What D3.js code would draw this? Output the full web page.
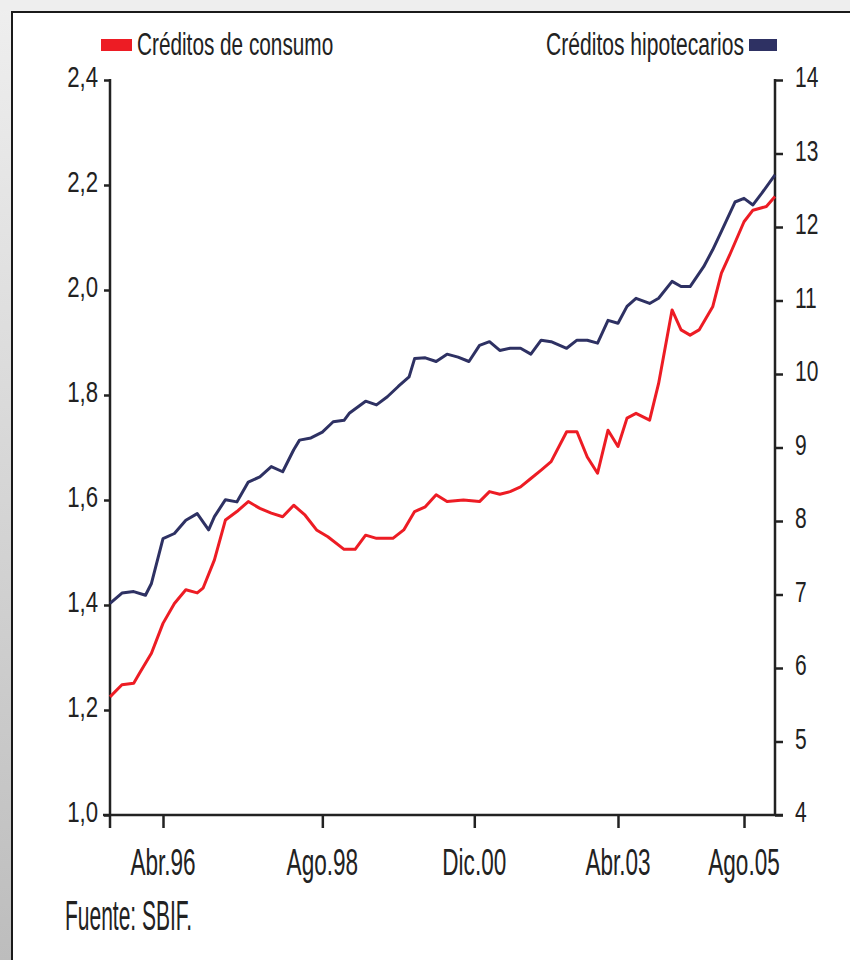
<!DOCTYPE html>
<html>
<head>
<meta charset="utf-8">
<script src="https://cdn.jsdelivr.net/npm/d3@7"></script>
<style>
  html, body { margin: 0; padding: 0; background: #ffffff; }
  svg { display: block; }
</style>
</head>
<body>
<svg id="chart" width="850" height="960"></svg>
<script>
// ---------------- DATA ----------------
const seriesNames = ["Créditos de consumo", "Créditos hipotecarios"];

// Créditos de consumo (left axis)
const consumoDates = ["1995-07","1995-09","1995-11","1995-12","1996-02","1996-04","1996-06","1996-08","1996-10","1996-11",
  "1997-01","1997-03","1997-05","1997-07","1997-09","1997-11","1998-01","1998-03","1998-05","1998-07",
  "1998-09","1998-12","1999-02","1999-04","1999-06","1999-09","1999-11","2000-01","2000-03","2000-05",
  "2000-07","2000-10","2001-01","2001-03","2001-05","2001-07","2001-09","2001-11","2002-01","2002-03",
  "2002-06","2002-08","2002-10","2002-12","2003-02","2003-04","2003-06","2003-08","2003-11","2004-01",
  "2004-04","2004-06","2004-08","2004-10","2005-01","2005-03","2005-05","2005-08","2005-10","2006-01","2006-03"];
const consumoValues = [1.225,1.248,1.251,1.270,1.308,1.365,1.403,1.429,1.423,1.432,
  1.486,1.562,1.578,1.597,1.584,1.575,1.568,1.590,1.571,1.543,
  1.530,1.506,1.506,1.533,1.527,1.527,1.543,1.578,1.587,1.610,
  1.597,1.600,1.597,1.616,1.611,1.616,1.625,1.641,1.657,1.673,
  1.730,1.730,1.682,1.651,1.733,1.702,1.756,1.765,1.752,1.822,
  1.962,1.924,1.914,1.924,1.968,2.032,2.070,2.130,2.152,2.159,2.178];

// Créditos hipotecarios (right axis)
const hipotecDates = ["1995-07","1995-09","1995-11","1996-01","1996-02","1996-04","1996-06","1996-08","1996-10","1996-12",
  "1997-01","1997-03","1997-05","1997-07","1997-09","1997-11","1998-01","1998-03","1998-04","1998-06",
  "1998-08","1998-10","1998-12","1999-01","1999-04","1999-06","1999-08","1999-10","1999-12","2000-01",
  "2000-03","2000-05","2000-07","2000-09","2000-11","2001-01","2001-03","2001-05","2001-07","2001-09",
  "2001-11","2002-01","2002-03","2002-06","2002-08","2002-10","2002-12","2003-02","2003-04","2003-06",
  "2003-08","2003-11","2004-01","2004-04","2004-06","2004-08","2004-11","2005-01","2005-03","2005-06",
  "2005-08","2005-10","2005-12","2006-03"];
const hipotecValues = [6.88,7.02,7.04,6.99,7.15,7.76,7.83,8.01,8.10,7.88,
  8.06,8.29,8.26,8.53,8.60,8.74,8.67,8.97,9.10,9.13,
  9.21,9.35,9.37,9.47,9.63,9.58,9.69,9.83,9.96,10.21,
  10.22,10.17,10.27,10.23,10.17,10.39,10.44,10.32,10.35,10.35,
  10.27,10.46,10.44,10.35,10.46,10.46,10.42,10.73,10.69,10.92,
  11.03,10.96,11.03,11.26,11.19,11.19,11.46,11.69,11.94,12.34,
  12.39,12.30,12.46,12.71];

const xTickDates = ["1996-04","1998-08","2000-12","2003-04","2005-08"];
const xTickLabels = ["Abr.96","Ago.98","Dic.00","Abr.03","Ago.05"];
const leftTicks = [1.0,1.2,1.4,1.6,1.8,2.0,2.2,2.4];
const leftTickLabels = ["1,0","1,2","1,4","1,6","1,8","2,0","2,2","2,4"];
const rightTicks = [4,5,6,7,8,9,10,11,12,13,14];
const xDomainEnds = ["1995-07","2006-03"];
const sourceText = "Fuente: SBIF.";

// ---------------- LAYOUT ----------------
const W = 850, H = 960;
const L = 110, R = 775, T = 80, B = 815;
const red = "#ed1c24", navy = "#2e3163", ink = "#222";
const font = "'Liberation Sans', Arial, sans-serif";

const parse = d3.timeParse("%Y-%m");
const consumo = consumoDates.map((d,i)=>({date: parse(d), v: consumoValues[i]}));
const hipotec = hipotecDates.map((d,i)=>({date: parse(d), v: hipotecValues[i]}));

// piecewise time scale (the original axis is not evenly spaced)
const xDomain = [parse(xDomainEnds[0]), ...xTickDates.map(parse), parse(xDomainEnds[1])];
const xFrac = [0, 0.0797, 0.3193, 0.5478, 0.7639, 0.9534, 1];
const x = d3.scaleTime().domain(xDomain).range(xFrac.map(f => L + f*(R-L)));
const yL = d3.scaleLinear().domain([1.0, 2.4]).range([B, T]);
const yR = d3.scaleLinear().domain([4, 14]).range([B, T]);

const svg = d3.select("#chart");

// background
const defs = svg.append("defs");
const grad = defs.append("linearGradient").attr("id","bg").attr("x1",0).attr("y1",0).attr("x2",0).attr("y2",1);
grad.append("stop").attr("offset","0%").attr("stop-color","#efefef");
grad.append("stop").attr("offset","100%").attr("stop-color","#bdbdbd");
svg.append("rect").attr("width",W).attr("height",H).attr("fill","url(#bg)");
svg.append("rect").attr("x",0).attr("y",0).attr("width",W).attr("height",11).attr("fill","#eeeeee");
svg.append("rect").attr("x",12).attr("y",12).attr("width",W).attr("height",H).attr("fill","#fff")
   .attr("stroke","#1a1a1a").attr("stroke-width",2);

// text helper with horizontal condensation
function ctext(g, tx, ty, str, size, sx, anchor) {
  g.append("text")
    .attr("transform", `translate(${tx},${ty}) scale(${sx},1)`)
    .attr("text-anchor", anchor)
    .attr("font-family", font)
    .attr("font-size", size)
    .attr("fill", ink)
    .text(str);
}

// axes
const axG = svg.append("g").attr("stroke", ink).attr("stroke-width", 2.5).attr("fill","none");
// left axis line (extends below bottom axis)
axG.append("line").attr("x1",L).attr("x2",L).attr("y1",yL(2.4)-1).attr("y2",B+13);
// right axis
axG.append("line").attr("x1",R).attr("x2",R).attr("y1",yR(14)-1).attr("y2",B);
// bottom axis (extends past both sides)
axG.append("line").attr("x1",L-7).attr("x2",R+8).attr("y1",B).attr("y2",B);

// left ticks + labels
const gl = svg.append("g").attr("transform",`translate(${L},0)`)
  .call(d3.axisLeft(yL).tickValues(leftTicks).tickSize(6).tickSizeOuter(0).tickFormat((d,i)=>leftTickLabels[i]));
gl.select(".domain").remove();
gl.selectAll(".tick line").attr("stroke",ink).attr("stroke-width",2.5);
gl.selectAll(".tick text").remove();
const glt = svg.append("g");
leftTicks.forEach((v,i)=> ctext(glt, L-12, yL(v)+7, leftTickLabels[i], 30, 0.74, "end"));

// right ticks + labels
const gr = svg.append("g").attr("transform",`translate(${R},0)`)
  .call(d3.axisRight(yR).tickValues(rightTicks).tickSize(8).tickSizeOuter(0));
gr.select(".domain").remove();
gr.selectAll(".tick line").attr("stroke",ink).attr("stroke-width",2.5);
gr.selectAll(".tick text").remove();
const grt = svg.append("g");
rightTicks.forEach(v=> ctext(grt, R+20, yR(v)+7, String(v), 30, 0.7, "start"));

// bottom ticks + labels
const gb = svg.append("g").attr("transform",`translate(0,${B})`)
  .call(d3.axisBottom(x).tickValues(xTickDates.map(parse)).tickSize(13).tickSizeOuter(0));
gb.select(".domain").remove();
gb.selectAll(".tick line").attr("stroke",ink).attr("stroke-width",2.5);
gb.selectAll(".tick text").remove();
const gbt = svg.append("g");
xTickDates.forEach((d,i)=> ctext(gbt, x(parse(d)), B+60, xTickLabels[i], 37, 0.61, "middle"));

// lines
const lineL = d3.line().x(d=>x(d.date)).y(d=>yL(d.v));
const lineR = d3.line().x(d=>x(d.date)).y(d=>yR(d.v));
svg.append("path").datum(consumo).attr("d", lineL).attr("fill","none")
  .attr("stroke", red).attr("stroke-width", 3).attr("stroke-linejoin","round");
svg.append("path").datum(hipotec).attr("d", lineR).attr("fill","none")
  .attr("stroke", navy).attr("stroke-width", 3).attr("stroke-linejoin","round");

// legend
const lg = svg.append("g");
lg.append("rect").attr("x",101).attr("y",39).attr("width",31).attr("height",12).attr("fill",red);
ctext(lg, 137, 55, seriesNames[0], 31, 0.67, "start");
lg.append("rect").attr("x",749).attr("y",39).attr("width",28).attr("height",12).attr("fill",navy);
ctext(lg, 744, 55, seriesNames[1], 31, 0.68, "end");

// source
ctext(svg, 65, 930, sourceText, 42, 0.5, "start");
</script>
</body>
</html>
